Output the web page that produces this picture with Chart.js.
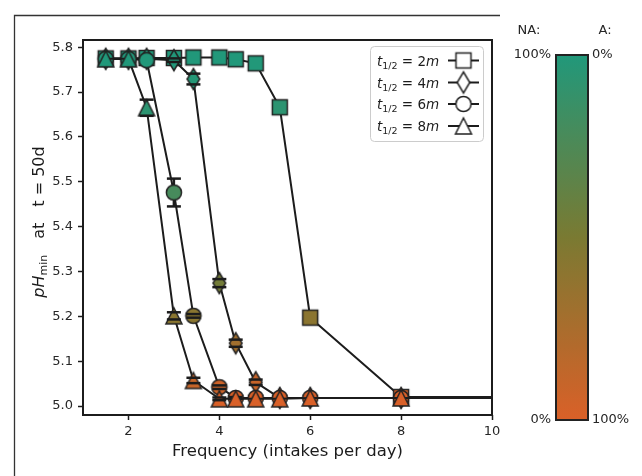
<!DOCTYPE html>
<html>
<head>
<meta charset="utf-8">
<script src="https://cdn.jsdelivr.net/npm/chart.js@4.4.1/dist/chart.umd.min.js"></script>
<style>
  html, body { margin: 0; padding: 0; background: #ffffff; }
  #c { display: block; }
</style>
</head>
<body>
<canvas id="c" width="642" height="476"></canvas>
<script>
// ---------------- data ----------------
const frequency = [1.5, 2, 2.4, 3, 3.43, 4, 4.36, 4.8, 5.33, 6, 8, 12];
const seriesLabels = ["2m", "4m", "6m", "8m"];
const ph2m = [5.775, 5.775, 5.776, 5.776, 5.777, 5.777, 5.773, 5.764, 5.666, 5.197, 5.020, 5.020];
const ph4m = [5.774, 5.774, 5.774, 5.771, 5.729, 5.274, 5.140, 5.053, 5.018, 5.018, 5.018, 5.018];
const ph6m = [5.774, 5.774, 5.771, 5.476, 5.201, 5.042, 5.018, 5.018, 5.018, 5.018, 5.018, 5.018];
const ph8m = [5.774, 5.774, 5.665, 5.201, 5.057, 5.016, 5.016, 5.016, 5.016, 5.018, 5.018, 5.018];
const err2m = [0, 0, 0, 0, 0, 0, 0, 0, 0, 0, 0, 0];
const err4m = [0, 0, 0, 0.004, 0.012, 0.009, 0.008, 0.006, 0.003, 0, 0, 0];
const err6m = [0, 0, 0, 0.031, 0.004, 0.004, 0.002, 0, 0, 0, 0, 0];
const err8m = [0, 0, 0.018, 0.008, 0.006, 0.003, 0, 0, 0, 0, 0, 0];
const yTicks = [5.0, 5.1, 5.2, 5.3, 5.4, 5.5, 5.6, 5.7, 5.8];
const xTicks = [2, 4, 6, 8, 10];
const colorbarTop = ["NA:", "A:"];
const colorbarLeftLabels = ["100%", "0%"];
const colorbarRightLabels = ["0%", "100%"];

// ---------------- colour map ----------------
const PH_LOW = 5.018, PH_HIGH = 5.777;
const cmapStops = [[0.0, [217, 96, 40]], [0.5, [122, 122, 50]], [1.0, [33, 152, 122]]];
function cmap(f) {
  f = Math.max(0, Math.min(1, f));
  for (let i = 0; i < cmapStops.length - 1; i++) {
    const [f0, c0] = cmapStops[i], [f1, c1] = cmapStops[i + 1];
    if (f <= f1) {
      const t = (f - f0) / (f1 - f0);
      return `rgb(${Math.round(c0[0] + t * (c1[0] - c0[0]))},${Math.round(c0[1] + t * (c1[1] - c0[1]))},${Math.round(c0[2] + t * (c1[2] - c0[2]))})`;
    }
  }
  return 'rgb(33,152,122)';
}
// fraction of "non-acidic" share, linear in H+ concentration
function fracFromPH(ph) {
  const hLo = Math.pow(10, -PH_LOW), hHi = Math.pow(10, -PH_HIGH), h = Math.pow(10, -ph);
  return (hLo - h) / (hLo - hHi);
}

// ---------------- markers ----------------
const SHAPES = ["square", "diamond", "circle", "triangle"];
const markerCache = {};
function shapePath(ctx, shape, cx, cy) {
  ctx.beginPath();
  if (shape === "square") {
    ctx.rect(cx - 7.5, cy - 7.5, 15, 15);
  } else if (shape === "circle") {
    ctx.arc(cx, cy, 7.6, 0, Math.PI * 2);
  } else if (shape === "diamond") {
    ctx.moveTo(cx, cy - 10.5); ctx.lineTo(cx + 6.3, cy); ctx.lineTo(cx, cy + 10.5); ctx.lineTo(cx - 6.3, cy); ctx.closePath();
  } else {
    ctx.moveTo(cx, cy - 8); ctx.lineTo(cx + 8, cy + 8); ctx.lineTo(cx - 8, cy + 8); ctx.closePath();
  }
}
function marker(shape, fill) {
  const key = shape + fill;
  if (markerCache[key]) return markerCache[key];
  const cv = document.createElement('canvas');
  cv.width = 26; cv.height = 26;
  const c = cv.getContext('2d');
  shapePath(c, shape, 13, 13);
  c.fillStyle = fill; c.fill();
  c.lineWidth = 1.5; c.strokeStyle = '#222222'; c.lineJoin = 'miter'; c.stroke();
  markerCache[key] = cv;
  return cv;
}

const allSeries = [ph2m, ph4m, ph6m, ph8m];
const allErr = [err2m, err4m, err6m, err8m];

const datasets = allSeries.map((vals, i) => ({
  label: seriesLabels[i],
  data: frequency.map((f, j) => ({ x: f, y: vals[j] })),
  borderColor: '#1c1c1c',
  borderWidth: 2,
  tension: 0,
  fill: false,
  order: 3 - i,
  pointRadius: 8,
  pointHoverRadius: 8,
  pointStyle: (ctx) => {
    const v = ctx.raw ? ctx.raw.y : PH_HIGH;
    return marker(SHAPES[i], cmap(fracFromPH(v)));
  },
  errors: allErr[i]
}));

// ---------------- plugins ----------------
const errorBars = {
  id: 'errorBars',
  beforeDatasetDraw(chart, args) {
    const ds = chart.data.datasets[args.index];
    const meta = args.meta, ys = chart.scales.y, ctx = chart.ctx, a = chart.chartArea;
    ctx.save();
    ctx.beginPath(); ctx.rect(a.left, a.top, a.right - a.left, a.bottom - a.top); ctx.clip();
    ctx.strokeStyle = '#1c1c1c'; ctx.lineWidth = 2.5;
    ds.errors.forEach((e, j) => {
      if (!e) return;
      const p = meta.data[j]; const v = ds.data[j].y;
      ctx.beginPath(); ctx.moveTo(p.x, ys.getPixelForValue(v + e)); ctx.lineTo(p.x, ys.getPixelForValue(v - e)); ctx.stroke();
    });
    ctx.restore();
  },
  afterDatasetDraw(chart, args) {
    const ds = chart.data.datasets[args.index];
    const meta = args.meta, ys = chart.scales.y, ctx = chart.ctx;
    ctx.save();
    ctx.strokeStyle = '#1c1c1c'; ctx.lineWidth = 2.5;
    ds.errors.forEach((e, j) => {
      if (!e) return;
      const p = meta.data[j]; const v = ds.data[j].y;
      [v + e, v - e].forEach(val => {
        const y = ys.getPixelForValue(val);
        ctx.beginPath(); ctx.moveTo(p.x - 7, y); ctx.lineTo(p.x + 7, y); ctx.stroke();
      });
    });
    ctx.restore();
  }
};

function drawRich(ctx, segs, x, y) {
  let cx = x;
  segs.forEach(s => {
    ctx.font = s[1];
    if (s[0]) ctx.fillText(s[0], cx, y + (s[2] || 0));
    cx += s[3] !== undefined ? s[3] : ctx.measureText(s[0]).width;
  });
  return cx - x;
}
function richWidth(ctx, segs) {
  let w = 0; segs.forEach(s => { ctx.font = s[1]; w += s[3] !== undefined ? s[3] : ctx.measureText(s[0]).width; }); return w;
}

const decorations = {
  id: 'decorations',
  afterDraw(chart) {
    const ctx = chart.ctx, a = chart.chartArea;
    ctx.save();
    // outer frame
    ctx.strokeStyle = '#333'; ctx.lineWidth = 1.3;
    ctx.beginPath(); ctx.moveTo(14.5, 480); ctx.lineTo(14.5, 15.5); ctx.lineTo(500, 15.5); ctx.stroke();
    // spines
    ctx.strokeStyle = '#1c1c1c'; ctx.lineWidth = 2;
    ctx.strokeRect(a.left, a.top, a.right - a.left, a.bottom - a.top);

    ctx.fillStyle = '#1c1c1c';
    // x title
    ctx.font = '16.5px "DejaVu Sans"'; ctx.textAlign = 'center'; ctx.textBaseline = 'middle';
    ctx.fillText('Frequency (intakes per day)', (a.left + a.right) / 2, 452);
    // y title
    ctx.save();
    ctx.translate(38, 222);
    ctx.rotate(-Math.PI / 2);
    ctx.textAlign = 'left'; ctx.textBaseline = 'alphabetic';
    const ySegs = [["pH", 'italic 16px "DejaVu Sans"', 0], ["min", '11px "DejaVu Sans"', 3],
                   ["", '16px "DejaVu Sans"', 0, 16], ["at", '16px "DejaVu Sans"', 0],
                   ["", '16px "DejaVu Sans"', 0, 16], ["t = 50d", '16px "DejaVu Sans"', 0]];
    const w = richWidth(ctx, ySegs);
    drawRich(ctx, ySegs, -w / 2, 6);
    ctx.restore();

    // legend
    const lx = 370, ly = 46, lw = 113, lh = 95;
    ctx.beginPath();
    ctx.roundRect(lx + 0.5, ly + 0.5, lw, lh, 4);
    ctx.fillStyle = 'rgba(255,255,255,0.85)'; ctx.fill();
    ctx.strokeStyle = '#cccccc'; ctx.lineWidth = 1; ctx.stroke();
    const rows = [60.5, 82.5, 104, 126];
    seriesLabels.forEach((lab, i) => {
      const y = rows[i];
      ctx.fillStyle = '#1c1c1c'; ctx.textAlign = 'left'; ctx.textBaseline = 'alphabetic';
      const num = lab.replace('m', '');
      drawRich(ctx, [["t", 'italic 13.5px "DejaVu Sans"', 0], ["1/2", '9.5px "DejaVu Sans"', 3], [" = " + num, '13.5px "DejaVu Sans"', 0], ["m", 'italic 13.5px "DejaVu Sans"', 0]], 377, y + 5);
      ctx.strokeStyle = '#1c1c1c'; ctx.lineWidth = 2;
      ctx.beginPath(); ctx.moveTo(448, y); ctx.lineTo(479, y); ctx.stroke();
      const m = marker(SHAPES[i], '#ffffff');
      ctx.drawImage(m, 463.5 - m.width / 2, y - m.height / 2);
    });

    // colorbar
    const cbx = 556, cby = 55, cbw = 32, cbh = 365;
    const g = ctx.createLinearGradient(0, cby + cbh, 0, cby);
    for (let k = 0; k <= 20; k++) g.addColorStop(k / 20, cmap(k / 20));
    ctx.fillStyle = g; ctx.fillRect(cbx, cby, cbw, cbh);
    ctx.strokeStyle = '#222'; ctx.lineWidth = 2; ctx.strokeRect(cbx, cby, cbw, cbh);
    ctx.fillStyle = '#262626'; ctx.font = '13px "DejaVu Sans"'; ctx.textBaseline = 'middle';
    ctx.textAlign = 'center';
    ctx.fillText(colorbarTop[0], 529, 31);
    ctx.fillText(colorbarTop[1], 605, 31);
    ctx.textAlign = 'right';
    ctx.fillText(colorbarLeftLabels[0], 551, cby);
    ctx.fillText(colorbarLeftLabels[1], 551, cby + cbh);
    ctx.textAlign = 'left';
    ctx.fillText(colorbarRightLabels[0], 592, cby);
    ctx.fillText(colorbarRightLabels[1], 592, cby + cbh);
    ctx.restore();
  }
};

// ---------------- chart ----------------
new Chart(document.getElementById('c'), {
  type: 'line',
  data: { datasets },
  plugins: [errorBars, decorations],
  options: {
    responsive: false,
    animation: false,
    devicePixelRatio: 1,
    layout: { padding: { left: 0, top: 40, right: 150, bottom: 0 } },
    plugins: { legend: { display: false }, tooltip: { enabled: false } },
    scales: {
      x: {
        type: 'linear', min: 1, max: 10,
        afterBuildTicks: (s) => { s.ticks = xTicks.map(v => ({ value: v })); },
        afterFit: (s) => { s.height = 61; },
        ticks: { font: { family: 'DejaVu Sans', size: 13 }, color: '#262626', padding: 4, maxRotation: 0,
                 callback: (v) => String(v) },
        grid: { display: true, drawOnChartArea: false, drawTicks: true, tickLength: 5, tickWidth: 1.5, color: '#1c1c1c' },
        border: { display: false }
      },
      y: {
        type: 'linear', min: 4.98, max: 5.816,
        afterBuildTicks: (s) => { s.ticks = yTicks.map(v => ({ value: v })); },
        afterFit: (s) => { s.width = 83; },
        ticks: { font: { family: 'DejaVu Sans', size: 13 }, color: '#262626', padding: 5,
                 callback: (v) => Number(v).toFixed(1) },
        grid: { display: true, drawOnChartArea: false, drawTicks: true, tickLength: 5, tickWidth: 1.5, color: '#1c1c1c' },
        border: { display: false }
      }
    }
  }
});
</script>
</body>
</html>
